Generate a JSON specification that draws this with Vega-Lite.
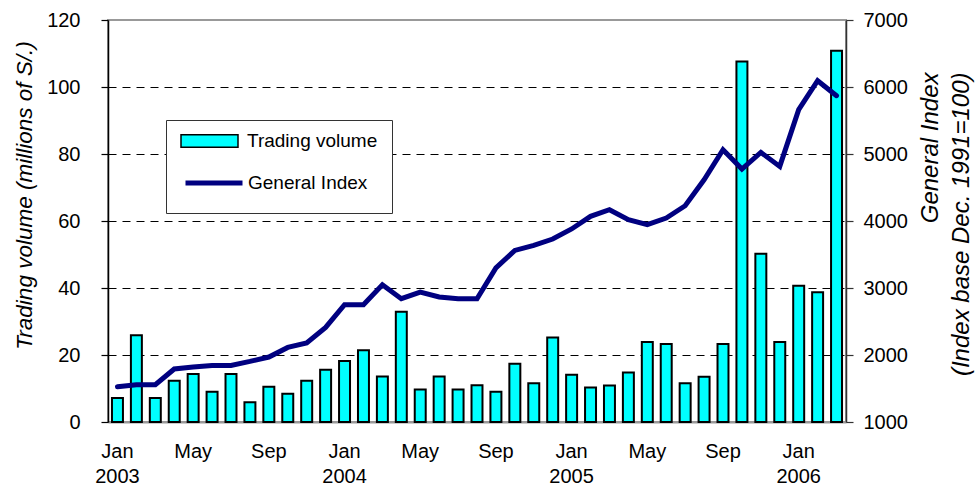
{
  "$schema": "https://vega.github.io/schema/vega-lite/v6.json",
  "width": 738,
  "height": 402,
  "autosize": {"type": "none"},
  "padding": {"left": 108, "top": 20, "right": 132, "bottom": 69},
  "background": "white",
  "config": {
    "font": "Liberation Sans",
    "view": {"stroke": "#999999", "strokeWidth": 2},
    "axis": {
      "labelFont": "Liberation Sans",
      "titleFont": "Liberation Sans",
      "labelColor": "black",
      "titleColor": "black",
      "labelFontSize": 20,
      "titleFontSize": 22.5,
      "titleFontStyle": "italic",
      "titleFontWeight": "normal"
    },
    "legend": {"labelFont": "Liberation Sans", "labelColor": "black", "labelFontSize": 19, "titleFont": "Liberation Sans"}
  },
  "data": {
    "values": [
      {"date": "2003-01", "vol": 7.2, "idx": 1525},
      {"date": "2003-02", "vol": 25.9, "idx": 1557},
      {"date": "2003-03", "vol": 7.2, "idx": 1557},
      {"date": "2003-04", "vol": 12.3, "idx": 1791},
      {"date": "2003-05", "vol": 14.3, "idx": 1821},
      {"date": "2003-06", "vol": 9.0, "idx": 1845},
      {"date": "2003-07", "vol": 14.3, "idx": 1845},
      {"date": "2003-08", "vol": 5.9, "idx": 1904},
      {"date": "2003-09", "vol": 10.5, "idx": 1970},
      {"date": "2003-10", "vol": 8.4, "idx": 2113},
      {"date": "2003-11", "vol": 12.3, "idx": 2179},
      {"date": "2003-12", "vol": 15.6, "idx": 2412},
      {"date": "2004-01", "vol": 18.2, "idx": 2751},
      {"date": "2004-02", "vol": 21.4, "idx": 2751},
      {"date": "2004-03", "vol": 13.6, "idx": 3049},
      {"date": "2004-04", "vol": 32.9, "idx": 2840},
      {"date": "2004-05", "vol": 9.7, "idx": 2940},
      {"date": "2004-06", "vol": 13.6, "idx": 2866},
      {"date": "2004-07", "vol": 9.7, "idx": 2840},
      {"date": "2004-08", "vol": 11.0, "idx": 2840},
      {"date": "2004-09", "vol": 9.0, "idx": 3299},
      {"date": "2004-10", "vol": 17.4, "idx": 3561},
      {"date": "2004-11", "vol": 11.6, "idx": 3636},
      {"date": "2004-12", "vol": 25.2, "idx": 3731},
      {"date": "2005-01", "vol": 14.1, "idx": 3881},
      {"date": "2005-02", "vol": 10.3, "idx": 4069},
      {"date": "2005-03", "vol": 10.9, "idx": 4169},
      {"date": "2005-04", "vol": 14.8, "idx": 4019},
      {"date": "2005-05", "vol": 23.9, "idx": 3945},
      {"date": "2005-06", "vol": 23.3, "idx": 4045},
      {"date": "2005-07", "vol": 11.6, "idx": 4228},
      {"date": "2005-08", "vol": 13.5, "idx": 4616},
      {"date": "2005-09", "vol": 23.3, "idx": 5064},
      {"date": "2005-10", "vol": 107.6, "idx": 4776},
      {"date": "2005-11", "vol": 50.2, "idx": 5024},
      {"date": "2005-12", "vol": 23.9, "idx": 4815},
      {"date": "2006-01", "vol": 40.7, "idx": 5661},
      {"date": "2006-02", "vol": 38.7, "idx": 6094},
      {"date": "2006-03", "vol": 110.8, "idx": 5870}
    ]
  },
  "layer": [
    {
      "mark": {"type": "bar", "stroke": "black", "strokeWidth": 2},
      "encoding": {
        "x": {
          "field": "date",
          "type": "ordinal",
          "sort": null,
          "scale": {"paddingInner": 0.42, "paddingOuter": 0.21},
          "axis": {
            "title": null,
            "ticks": false,
            "labelAngle": 0,
            "labelPadding": 19,
            "labelLineHeight": 25,
            "labelBaseline": "top",
            "labelOverlap": false,
            "domainColor": "#999999",
            "domainWidth": 2,
            "labelExpr": "substring(datum.value,5,7)=='01' ? ['Jan', substring(datum.value,0,4)] : substring(datum.value,5,7)=='05' ? 'May' : substring(datum.value,5,7)=='09' ? 'Sep' : ''"
          }
        },
        "y": {
          "field": "vol",
          "type": "quantitative",
          "scale": {"domain": [0, 120], "nice": false},
          "axis": {
            "values": [0, 20, 40, 60, 80, 100, 120],
            "title": "Trading volume  (millions of S/.)",
            "domainColor": "black",
            "domainWidth": 1.5,
            "tickColor": "black",
            "tickSize": 7,
            "tickWidth": 1.2,
            "labelPadding": 21,
            "grid": true,
            "gridColor": "black",
            "gridDash": [8, 6],
            "gridWidth": 1,
            "gridOpacity": {"condition": {"test": "datum.value === 0 || datum.value === 120", "value": 0}, "value": 1},
            "titleX": -84,
            "titleY": 175,
            "titleAlign": "center",
            "titleBaseline": "middle",
            "titleAngle": -90
          }
        },
        "color": {
          "datum": "Trading volume",
          "type": "nominal",
          "scale": {"domain": ["Trading volume"], "range": ["#00FFFF"]},
          "legend": {
            "orient": "none",
            "legendX": 58,
            "legendY": 100,
            "title": " ",
            "titleOrient": "bottom",
            "titleFontSize": 20,
            "titlePadding": 28,
            "direction": "vertical",
            "fillColor": "white",
            "strokeColor": "#333333",
            "padding": 14,
            "symbolType": "M-1,-0.22H1V0.22H-1Z",
            "symbolSize": 3249,
            "symbolStrokeColor": "black",
            "symbolStrokeWidth": 1.5,
            "symbolFillColor": "#00FFFF",
            "clipHeight": 14,
            "labelOffset": 8,
            "zindex": 1
          }
        }
      }
    },
    {
      "mark": {"type": "line", "strokeWidth": 5, "strokeCap": "round"},
      "encoding": {
        "x": {"field": "date", "type": "ordinal", "sort": null},
        "y": {
          "field": "idx",
          "type": "quantitative",
          "scale": {"domain": [1000, 7000], "nice": false},
          "axis": {
            "orient": "right",
            "values": [1000, 2000, 3000, 4000, 5000, 6000, 7000],
            "format": "d",
            "title": ["General Index", "(Index base Dec. 1991=100)"],
            "titleFontSize": 24,
            "domainColor": "#333333",
            "domainWidth": 1.5,
            "tickColor": "#333333",
            "tickSize": 7,
            "tickWidth": 1.2,
            "labelPadding": 10,
            "grid": false,
            "titleAngle": -90,
            "titleX": 84,
            "titleY": 52,
            "titleAlign": "right",
            "titleBaseline": "middle",
            "titleLineHeight": 31
          }
        },
        "color": {
          "datum": "General Index",
          "type": "nominal",
          "scale": {"domain": ["General Index"], "range": ["#000080"]},
          "legend": {
            "orient": "none",
            "legendX": 75,
            "legendY": 153,
            "title": null,
            "direction": "vertical",
            "padding": 0,
            "symbolType": "stroke",
            "symbolSize": 3249,
            "symbolStrokeColor": "#000080",
            "symbolStrokeWidth": 5,
            "clipHeight": 20,
            "labelOffset": 3,
            "zindex": 2
          }
        }
      }
    }
  ],
  "resolve": {"scale": {"y": "independent", "color": "independent"}, "legend": {"color": "independent"}}
}
